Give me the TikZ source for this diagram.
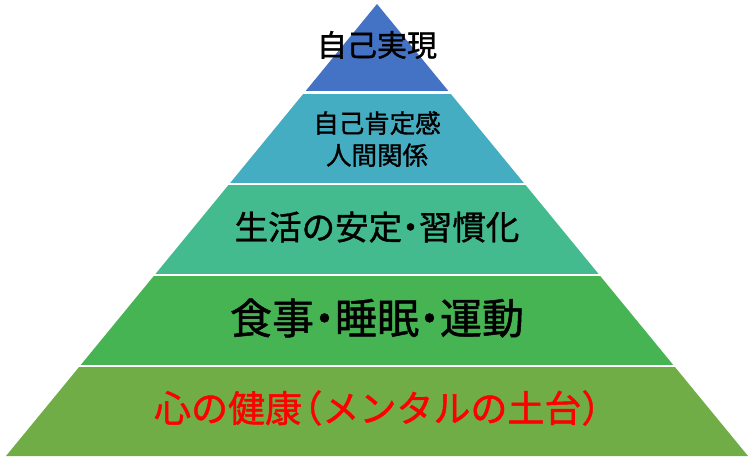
\documentclass[tikz,border=0pt]{standalone}
\usepackage{fontspec}
\setmainfont{Noto Sans CJK JP}
\newfontfamily\jpm[FakeBold=1.2]{Noto Sans CJK JP}
\definecolor{cA}{HTML}{4472C4}
\definecolor{cB}{HTML}{45ADC1}
\definecolor{cC}{HTML}{43BB8F}
\definecolor{cD}{HTML}{47B453}
\definecolor{cE}{HTML}{70AD47}
\definecolor{redtxt}{HTML}{FF0000}
\newcommand{\hdot}{\hspace{-0.25em}・\hspace{-0.25em}}
\newcommand{\lpar}{\hspace{-0.45em}（}
\newcommand{\rpar}{）\hspace{-0.5em}}
\tikzset{
  lbl/.style={inner sep=0pt, align=center, text=black},
  gap/.style={draw=white, line width=2.5pt},
}
\begin{document}
\begin{tikzpicture}[x=1pt,y=-1pt]
\useasboundingbox (0,0) rectangle (753,460);
% apex (377,4); half width = 0.8208*(y-4)
\fill[cA] (377,4) -- (449.6,92.5) -- (304.4,92.5) -- cycle;
\fill[cB] (304.4,92.5) -- (449.6,92.5) -- (524.7,184) -- (229.3,184) -- cycle;
\fill[cC] (229.3,184) -- (524.7,184) -- (599.4,275) -- (154.6,275) -- cycle;
\fill[cD] (154.6,275) -- (599.4,275) -- (674.1,366) -- (79.9,366) -- cycle;
\fill[cE] (79.9,366) -- (674.1,366) -- (748,456) -- (6,456) -- cycle;
\draw[gap] (290,92.5) -- (465,92.5);
\draw[gap] (215,184) -- (540,184);
\draw[gap] (140,275) -- (615,275);
\draw[gap] (65,366) -- (690,366);
\node[lbl, font=\jpm\fontsize{30}{30}\selectfont] (t1) at (377,45) {自己実現};
\node[lbl, font=\jpm\fontsize{25.5}{32}\selectfont] (t2) at (377,139) {自己肯定感\\人間関係};
\node[lbl, font=\jpm\fontsize{33.5}{34}\selectfont] (t3) at (377,227) {生活の安定\hdot 習慣化};
\node[lbl, font=\jpm\fontsize{42}{44}\selectfont] (t4) at (377,318) {食事\hdot 睡眠\hdot 運動};
\node[lbl, text=redtxt, font=\jpm\fontsize{37}{40}\selectfont] (t5) at (377,408) {心の健康\lpar メンタルの土台\rpar};
\end{tikzpicture}
\end{document}
